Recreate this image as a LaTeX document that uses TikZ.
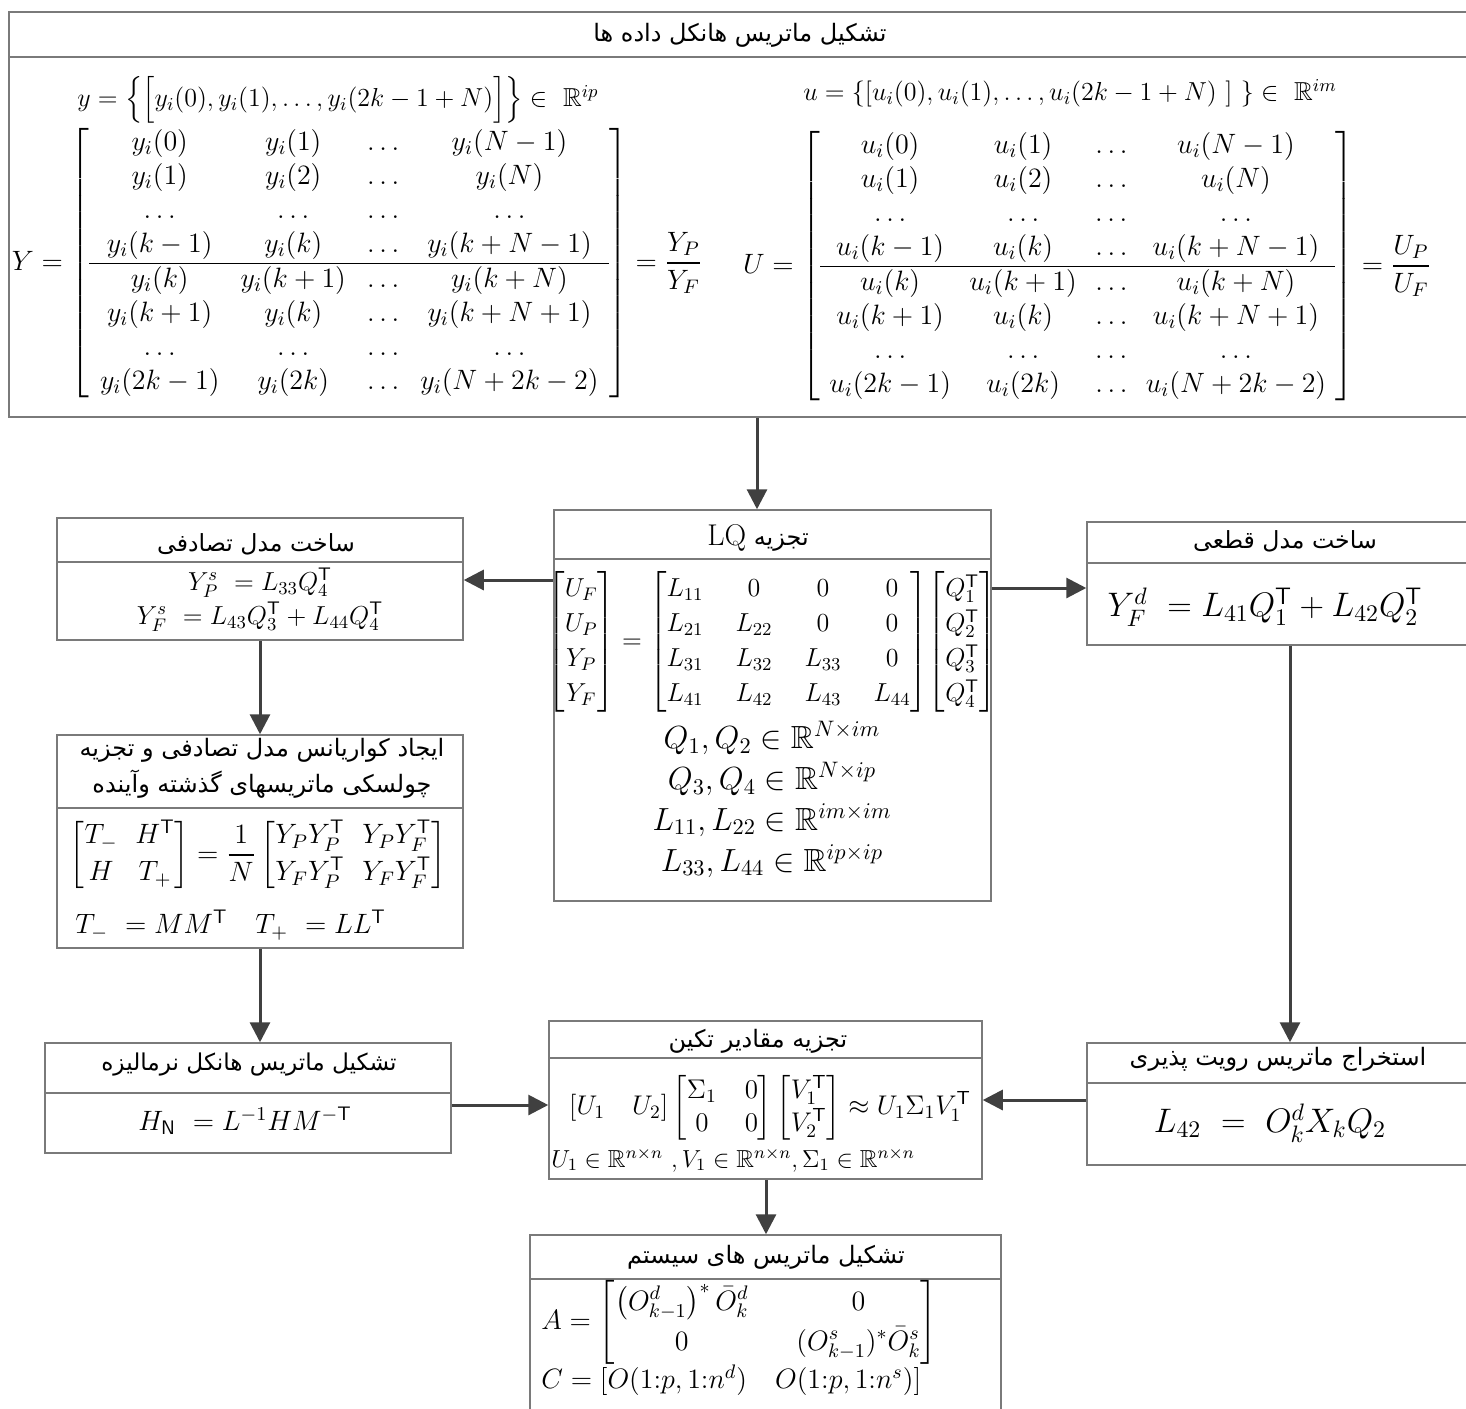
\RequirePackage{fix-cm}
\documentclass[tikz,border=0pt]{standalone}
\usepackage{amsmath,amssymb}
\usepackage{fontspec}
\newfontfamily\fa[Script=Arabic]{DejaVu Sans}
\TeXXeTstate=1
\usetikzlibrary{arrows.meta,fit}
\definecolor{boxgray}{HTML}{7A7A7A}
\definecolor{arrgray}{HTML}{404040}
\newcommand\mytp{\mathsf{T}}
\newcommand\setfs[2]{\fontsize{#1}{#2}\selectfont}
\begin{document}
\begin{tikzpicture}[x=0.5pt,y=-0.5pt,
  box/.style={draw=boxgray,line width=0.75pt,inner sep=0pt},
  sep/.style={draw=boxgray,line width=0.75pt},
  arr/.style={draw=arrgray,line width=1.5pt,-{Triangle[length=10pt,width=10pt]}},
  ttl/.style={font=\fa\setfs{12}{18},inner sep=1pt,align=center},
  eq/.style={inner sep=0pt}]
\useasboundingbox (0,0) rectangle (1466,1408);
\fill[white] (0,0) rectangle (1466,1408);

% ---------- boxes ----------
\node[box,fit={(9,12) (1468,417)}] (top) {};
\node[box,fit={(554,510) (991,901)}] (lq) {};
\node[box,fit={(57,518) (463,640)}] (rnd) {};
\node[box,fit={(1087,522) (1468,645)}] (det) {};
\node[box,fit={(57,735) (463,948)}] (cov) {};
\node[box,fit={(45,1043) (451,1153)}] (nrm) {};
\node[box,fit={(549,1021) (982,1179)}] (svd) {};
\node[box,fit={(1087,1043) (1468,1165)}] (obs) {};
\node[box,fit={(530,1235) (1001,1412)}] (sys) {};

% separators
\draw[sep] (top.west |- 0,57) -- (top.east |- 0,57);
\draw[sep] (lq.west |- 0,559) -- (lq.east |- 0,559);
\draw[sep] (rnd.west |- 0,562) -- (rnd.east |- 0,562);
\draw[sep] (det.west |- 0,563) -- (det.east |- 0,563);
\draw[sep] (cov.west |- 0,808) -- (cov.east |- 0,808);
\draw[sep] (nrm.west |- 0,1093) -- (nrm.east |- 0,1093);
\draw[sep] (svd.west |- 0,1058) -- (svd.east |- 0,1058);
\draw[sep] (obs.west |- 0,1083) -- (obs.east |- 0,1083);
\draw[sep] (sys.west |- 0,1279) -- (sys.east |- 0,1279);

% ---------- titles ----------
\node[ttl] (topT) at (740,35) {\beginR تشکیل ماتریس هانکل داده ها\endR};
\node[ttl] (lqT) at (758,538) {\beginR تجزیه \beginL{\rmfamily\setfs{15}{18}LQ}\endL\endR};
\node[ttl,font=\fa\setfs{11.8}{18}] (rndT) at (256,544) {\beginR ساخت مدل تصادفی\endR};
\node[ttl,font=\fa\setfs{11.8}{18}] (detT) at (1285,541) {\beginR ساخت مدل قطعی\endR};
\node[ttl] (covT) at (262,768) {\beginR ایجاد کواریانس مدل تصادفی و تجزیه\endR\\\beginR چولسکی ماتریسهای گذشته وآینده\endR};
\node[ttl,font=\fa\setfs{11.6}{18}] (nrmT) at (249,1065) {\beginR تشکیل ماتریس هانکل نرمالیزه\endR};
\node[ttl] (svdT) at (758,1041) {\beginR تجزیه مقادیر تکین\endR};
\node[ttl] (obsT) at (1278,1059) {\beginR استخراج  ماتریس رویت پذیری\endR};
\node[ttl] (sysT) at (766,1257) {\beginR تشکیل ماتریس های سیستم\endR};

% ---------- top box contents ----------
\node[eq,font=\setfs{13}{16}] (yeq) at (338,100)
 {$y=\Big\{\Big[y_i(0), y_i(1), \ldots, y_i(2k-1+N)\Big]\Big\}\in\ \mathbb{R}^{ip}$};
\node[eq,font=\setfs{13}{16}] (ueq) at (1070,93)
 {$u=\{[u_i(0), u_i(1), \ldots, u_i(2k-1+N)\ ]\ \}\in\ \mathbb{R}^{im}$};
\node[eq,font=\setfs{14}{17}] (Ymat) at (357,263)
 {$Y=\setlength\arraycolsep{5.3pt}\left[\begin{array}{cccc}
 y_i(0) & y_i(1) & \ldots & y_i(N-1)\\
 y_i(1) & y_i(2) & \ldots & y_i(N)\\
 \ldots & \ldots & \ldots & \ldots\\
 y_i(k-1) & y_i(k) & \ldots & y_i(k+N-1)\\ \hline
 y_i(k) & y_i(k+1) & \ldots & y_i(k+N)\\
 y_i(k+1) & y_i(k) & \ldots & y_i(k+N+1)\\
 \ldots & \ldots & \ldots & \ldots\\
 y_i(2k-1) & y_i(2k) & \ldots & y_i(N+2k-2)
 \end{array}\right]=\dfrac{Y_P}{Y_F}$};
\node[eq,font=\setfs{14}{17}] (Umat) at (1087,266)
 {$U=\setlength\arraycolsep{4.6pt}\left[\begin{array}{cccc}
 u_i(0) & u_i(1) & \ldots & u_i(N-1)\\
 u_i(1) & u_i(2) & \ldots & u_i(N)\\
 \ldots & \ldots & \ldots & \ldots\\
 u_i(k-1) & u_i(k) & \ldots & u_i(k+N-1)\\ \hline
 u_i(k) & u_i(k+1) & \ldots & u_i(k+N)\\
 u_i(k+1) & u_i(k) & \ldots & u_i(k+N+1)\\
 \ldots & \ldots & \ldots & \ldots\\
 u_i(2k-1) & u_i(2k) & \ldots & u_i(N+2k-2)
 \end{array}\right]=\dfrac{U_P}{U_F}$};

% ---------- LQ box ----------
\node[eq,font=\setfs{13}{17.5}] (lqeq) at (772,642)
 {$\begin{bmatrix}U_F\\U_P\\Y_P\\Y_F\end{bmatrix}=\setlength\arraycolsep{8pt}\begin{bmatrix}L_{11}&0&0&0\\L_{21}&L_{22}&0&0\\L_{31}&L_{32}&L_{33}&0\\L_{41}&L_{42}&L_{43}&L_{44}\end{bmatrix}\!\begin{bmatrix}Q_1^{\mytp}\\Q_2^{\mytp}\\Q_3^{\mytp}\\Q_4^{\mytp}\end{bmatrix}$};
\node[eq,font=\setfs{16}{19}] (q1) at (772,738) {$Q_1, Q_2\in\mathbb{R}^{N\times im}$};
\node[eq,font=\setfs{16}{19}] (q2) at (772,779) {$Q_3, Q_4\in\mathbb{R}^{N\times ip}$};
\node[eq,font=\setfs{16}{19}] (q3) at (772,820) {$L_{11}, L_{22}\in\mathbb{R}^{im\times im}$};
\node[eq,font=\setfs{16}{19}] (q4) at (772,861) {$L_{33}, L_{44}\in\mathbb{R}^{ip\times ip}$};

% ---------- random model ----------
\node[eq,font=\setfs{13}{16}] (r1) at (260,583) {$Y_P^s\ =L_{33}Q_4^{\mytp}$};
\node[eq,font=\setfs{13}{16}] (r2) at (260,617) {$Y_F^s\ =L_{43}Q_3^{\mytp}+L_{44}Q_4^{\mytp}$};

% ---------- deterministic ----------
\node[eq,font=\setfs{17}{20}] (d1) at (1265,607) {$Y_F^d\ =L_{41}Q_1^{\mytp}+L_{42}Q_2^{\mytp}$};

% ---------- covariance ----------
\node[eq,font=\setfs{14}{18.5}] (c1) at (258,855)
 {$\setlength\arraycolsep{4.5pt}\begin{bmatrix}T_- & H^{\mytp}\\ H & T_+\end{bmatrix}=\dfrac{1}{N}\begin{bmatrix}Y_PY_P^{\mytp} & Y_PY_F^{\mytp}\\ Y_FY_P^{\mytp} & Y_FY_F^{\mytp}\end{bmatrix}$};
\node[eq,font=\setfs{14}{17},anchor=west] (c2) at (75,925) {$T_-\ =MM^{\mytp}\quad T_+\ =LL^{\mytp}$};

% ---------- normalized ----------
\node[eq,font=\setfs{14}{17}] (n1) at (245,1121) {$H_{\mathsf{N}}\ =L^{-1}HM^{-\mytp}$};

% ---------- SVD ----------
\node[eq,font=\setfs{13.5}{16.5}] (s1) at (770,1108)
 {$[U_1\quad U_2]\setlength\arraycolsep{7pt}\begin{bmatrix}\Sigma_1 & 0\\ 0 & 0\end{bmatrix}\begin{bmatrix}V_1^{\mytp}\\ V_2^{\mytp}\end{bmatrix}\approx U_1\Sigma_1V_1^{\mytp}$};
\node[eq,font=\setfs{12.3}{15},anchor=west] (s2) at (551,1160)
 {$U_1\in\mathbb{R}^{n\times n}\ ,V_1\in\mathbb{R}^{n\times n},\Sigma_1\in\mathbb{R}^{n\times n}$};

% ---------- observability ----------
\node[eq,font=\setfs{17}{20}] (o1) at (1270,1123) {$L_{42}\ =\ O_k^dX_kQ_2$};

% ---------- system matrices ----------
\node[eq,font=\setfs{14}{20},anchor=west] (a1) at (541,1322)
 {$A=\setlength\arraycolsep{12pt}\begin{bmatrix}\left(O_{k-1}^d\right)^{*}\bar{O}_k^d & 0\\ 0 & (O_{k-1}^s)^{*}\bar{O}_k^s\end{bmatrix}$};
\node[eq,font=\setfs{14}{17},anchor=west] (a2) at (541,1380)
 {$C=[O(1{:}p, 1{:}n^d)\quad O(1{:}p, 1{:}n^s)]$};

% ---------- connectors ----------
\draw[arr] (top.south -| 757,0) -- (lq.north -| 757,0);
\draw[arr] (lq.west |- 0,580) -- (rnd.east |- 0,580);
\draw[arr] (lq.east |- 0,588) -- (det.west |- 0,588);
\draw[arr] (rnd.south -| 260,0) -- (cov.north -| 260,0);
\draw[arr] (cov.south -| 260,0) -- (nrm.north -| 260,0);
\draw[arr] (det.south -| 1290,0) -- (obs.north -| 1290,0);
\draw[arr] (nrm.east |- 0,1105) -- (svd.west |- 0,1105);
\draw[arr] (obs.west |- 0,1100) -- (svd.east |- 0,1100);
\draw[arr] (svd.south -| 766,0) -- (sys.north -| 766,0);
\end{tikzpicture}
\end{document}
